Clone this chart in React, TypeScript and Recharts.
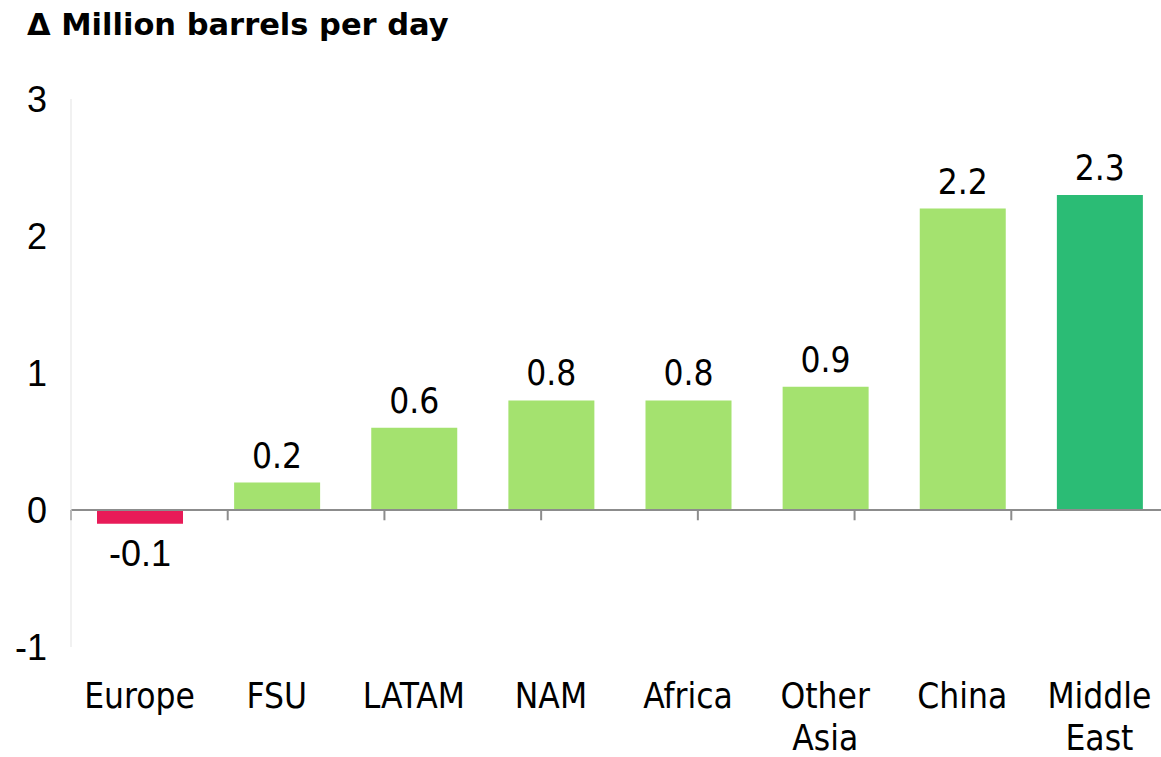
import React from "react";
import {
  BarChart,
  Bar,
  Cell,
  XAxis,
  YAxis,
  ReferenceLine,
  LabelList,
} from "recharts";

// categories and values (million barrels per day, change)
const regions = ["Europe", "FSU", "LATAM", "NAM", "Africa", "Other Asia", "China", "Middle East"];
const regionLines = [["Europe"], ["FSU"], ["LATAM"], ["NAM"], ["Africa"], ["Other", "Asia"], ["China"], ["Middle", "East"]];
const change = [-0.1, 0.2, 0.6, 0.8, 0.8, 0.9, 2.2, 2.3];
const barColors = ["#E81B58", "#A4E26F", "#A4E26F", "#A4E26F", "#A4E26F", "#A4E26F", "#A4E26F", "#2BBC75"];
const yTicks = [-1, 0, 1, 2, 3];
const boundaries = [0, 1, 2, 3, 4, 5, 6, 7, 8];

const COND = "'DejaVu Sans Condensed', 'DejaVu Sans', sans-serif";
const ARIAL = "'Liberation Sans', Arial, sans-serif";

const data = regions.map((r, i) => ({ region: r, value: change[i], idx: i }));

function CategoryTick(props: any) {
  const { x, y, payload } = props;
  const lines = regionLines[regions.indexOf(payload.value)] || [payload.value];
  return (
    <text x={x} y={y + 61} textAnchor="middle" fontFamily={COND} fontSize={35} fill="#000">
      {lines.map((l: string, i: number) => (
        <tspan key={l} x={x} dy={i === 0 ? 0 : 42}>
          {l}
        </tspan>
      ))}
    </text>
  );
}

function ValueLabel(props: any) {
  const { x, y, width, height, value } = props;
  const top = Math.min(y, y + height);
  const bottom = Math.max(y, y + height);
  const cx = x + width / 2;
  if (value < 0) {
    return (
      <text x={cx} y={bottom + 42} textAnchor="middle" fontFamily={ARIAL} fontSize={36} fill="#000">
        {value}
      </text>
    );
  }
  return (
    <text x={cx} y={top - 15} textAnchor="middle" fontFamily={COND} fontSize={35} fill="#000">
      {value.toFixed(1)}
    </text>
  );
}

export default function App() {
  return (
    <div style={{ position: "absolute", left: 0, top: 0, width: 1161, height: 757, overflow: "hidden", background: "#fff" }}>
      <div
        style={{
          position: "absolute",
          left: 27,
          top: 8,
          fontFamily: "'DejaVu Sans', sans-serif",
          fontWeight: "bold",
          fontSize: 30.5,
          lineHeight: "34px",
          color: "#000",
          whiteSpace: "nowrap",
        }}
      >
        Δ Million barrels per day
      </div>
      <BarChart
        width={1170}
        height={757}
        data={data}
        margin={{ top: 99, right: 2, bottom: 0, left: 0 }}
        barSize={86}
      >
        <XAxis
          dataKey="region"
          axisLine={false}
          tickLine={false}
          tickSize={0}
          tickMargin={0}
          height={110}
          interval={0}
          tick={<CategoryTick />}
        />
        <XAxis xAxisId="b" type="number" domain={[0, 8]} ticks={boundaries} hide />
        <YAxis
          domain={[-1, 3]}
          ticks={yTicks}
          width={71}
          axisLine={{ stroke: "#E3E3E3", strokeWidth: 1 }}
          tickLine={false}
          tickSize={0}
          tickMargin={24}
          tick={{ fontFamily: ARIAL, fontSize: 36, fill: "#000" }}
        />
        <Bar dataKey="value" isAnimationActive={false}>
          {data.map((d) => (
            <Cell key={d.region} fill={barColors[d.idx]} />
          ))}
          <LabelList dataKey="value" content={<ValueLabel />} />
        </Bar>
        <ReferenceLine y={0} stroke="#8C8C8C" strokeWidth={2} />
        {boundaries.map((b) => (
          <ReferenceLine
            key={b}
            xAxisId="b"
            segment={[{ x: b, y: 0 }, { x: b, y: -0.075 }]}
            stroke="#8C8C8C"
            strokeWidth={2}
          />
        ))}
      </BarChart>
    </div>
  );
}
